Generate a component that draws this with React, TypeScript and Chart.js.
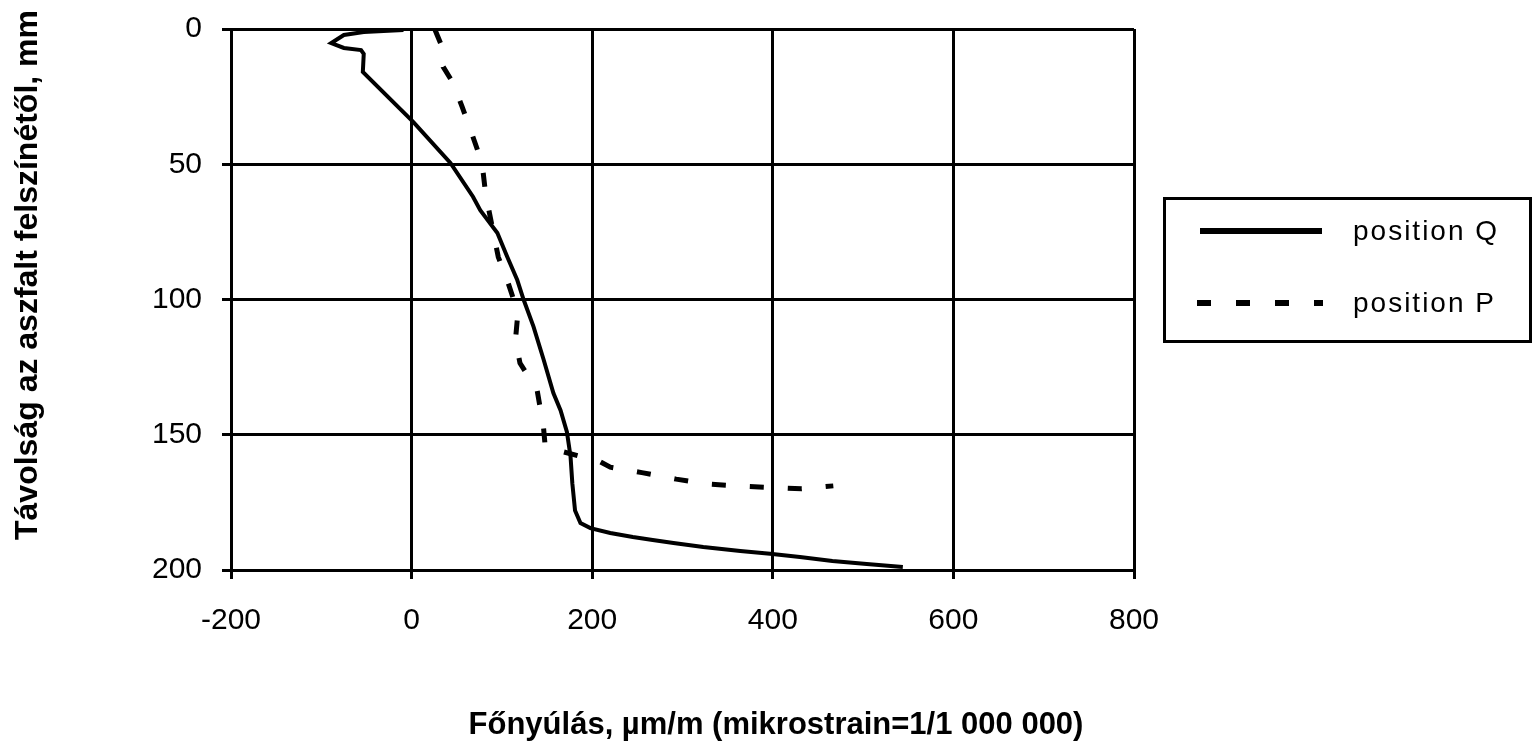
import React, { useEffect, useRef } from "react";
import { Chart, registerables } from "chart.js";

Chart.register(...registerables);

// position Q (solid)
const qStrain = [-9, -53, -75, -89, -75, -56, -53, -54, 2, 43, 68, 76, 95, 106, 117, 124, 135, 146, 157, 165, 172, 176, 178, 181, 187, 198, 220, 245, 267, 290, 323, 364, 397, 430, 466, 504, 544];
const qDepth = [0.4, 1.1, 2.2, 5.2, 7, 7.8, 9.2, 15.9, 34.4, 49.5, 62, 67, 75.4, 84.3, 92.8, 100, 110, 122, 134.6, 141, 149, 158, 168, 178, 182.6, 184.5, 186.3, 187.8, 188.9, 190, 191.5, 193, 194, 195.2, 196.7, 197.8, 198.9];

// position P (dashed)
const pStrain = [26, 32, 35, 46, 56, 67, 78, 82, 96, 107, 113, 117, 115, 120, 139, 146, 148, 209, 220, 255, 293, 327, 366, 432, 467];
const pDepth = [0.4, 5.2, 14, 20, 28.8, 39, 49.5, 61, 84.3, 94, 100, 107.6, 115, 123.5, 133.5, 147, 154.5, 160, 162, 164, 166.4, 168.2, 169, 170, 168.9];

const xTicks = [-200, 0, 200, 400, 600, 800];
const yTicks = [0, 50, 100, 150, 200];

const seriesNames = ["position Q", "position P"];
const xTitle = "Főnyúlás, µm/m (mikrostrain=1/1 000 000)";
const yTitle = "Távolság az aszfalt felszínétől, mm";

const W = 1533;
const H = 743;

const overlay = {
  id: "overlay",
  afterDraw(chart: any) {
    const ctx = chart.ctx as CanvasRenderingContext2D;
    ctx.save();
    ctx.fillStyle = "#000";
    ctx.strokeStyle = "#000";
    // y title
    ctx.font = "bold 32px 'Liberation Sans', Arial, sans-serif";
    ctx.save();
    ctx.translate(37, 275);
    ctx.rotate(-Math.PI / 2);
    ctx.textAlign = "center";
    ctx.textBaseline = "alphabetic";
    ctx.fillText(yTitle, 0, 0);
    ctx.restore();
    // x title
    ctx.font = "bold 31px 'Liberation Sans', Arial, sans-serif";
    ctx.textAlign = "center";
    ctx.textBaseline = "alphabetic";
    ctx.fillText(xTitle, 776, 734);

    // legend box
    ctx.lineWidth = 3;
    ctx.setLineDash([]);
    ctx.strokeRect(1164.5, 198.5, 366, 143);
    // Q sample
    ctx.lineWidth = 6;
    ctx.beginPath();
    ctx.moveTo(1200, 231);
    ctx.lineTo(1322, 231);
    ctx.stroke();
    // P sample
    ctx.setLineDash([14, 25]);
    ctx.beginPath();
    ctx.moveTo(1197, 303);
    ctx.lineTo(1323, 303);
    ctx.stroke();
    ctx.setLineDash([]);
    ctx.font = "28px 'Liberation Sans', Arial, sans-serif";
    (ctx as any).letterSpacing = "2px";
    ctx.textAlign = "left";
    ctx.textBaseline = "middle";
    ctx.fillText(seriesNames[0], 1353, 232);
    ctx.fillText(seriesNames[1], 1353, 304);
    ctx.restore();
  },
};

export default function App() {
  const ref = useRef<HTMLCanvasElement | null>(null);
  useEffect(() => {
    if (!ref.current) return;
    const qData = qStrain.map((x, i) => ({ x, y: qDepth[i] }));
    const pData = pStrain.map((x, i) => ({ x, y: pDepth[i] }));
    const xTickFont = { family: "'Liberation Sans', Arial, sans-serif", size: 30 };
    const yTickFont = { family: "'Liberation Sans', Arial, sans-serif", size: 30, lineHeight: 0.5 };
    const chart = new Chart(ref.current, {
      type: "scatter",
      data: {
        datasets: [
          {
            label: seriesNames[0],
            data: qData,
            showLine: true,
            borderColor: "#000",
            backgroundColor: "#000",
            borderWidth: 4,
            pointRadius: 0,
            tension: 0,
          },
          {
            label: seriesNames[1],
            data: pData,
            showLine: true,
            borderColor: "#000",
            backgroundColor: "#000",
            borderWidth: 5,
            borderDash: [14, 24],
            pointRadius: 0,
            tension: 0,
          },
        ],
      },
      options: {
        animation: false,
        responsive: false,
        devicePixelRatio: 1,
        layout: { padding: { left: 0, right: W - 1134, top: 29, bottom: 0 } },
        plugins: { legend: { display: false }, tooltip: { enabled: false } },
        scales: {
          x: {
            type: "linear",
            min: -200,
            max: 800,
            afterBuildTicks: (s: any) => {
              s.ticks = xTicks.map((v) => ({ value: v }));
            },
            afterFit: (s: any) => {
              s.height = H - 570;
            },
            ticks: { color: "#000", font: xTickFont, padding: 24, maxRotation: 0 },
            grid: { color: "#000", lineWidth: 3, tickLength: 9 },
            border: { color: "#000", width: 3 },
          },
          y: {
            type: "linear",
            reverse: true,
            min: 0,
            max: 200,
            afterBuildTicks: (s: any) => {
              s.ticks = yTicks.map((v) => ({ value: v }));
            },
            afterFit: (s: any) => {
              s.width = 231;
            },
            ticks: { color: "#000", font: yTickFont, padding: 20 },
            grid: { color: "#000", lineWidth: 3, tickLength: 9 },
            border: { color: "#000", width: 3 },
          },
        },
      },
      plugins: [overlay],
    });
    return () => chart.destroy();
  }, []);
  return (
    <div style={{ position: "absolute", left: 0, top: 0, width: W, height: H, background: "#fff" }}>
      <canvas ref={ref} width={W} height={H} style={{ width: W, height: H }} />
    </div>
  );
}
